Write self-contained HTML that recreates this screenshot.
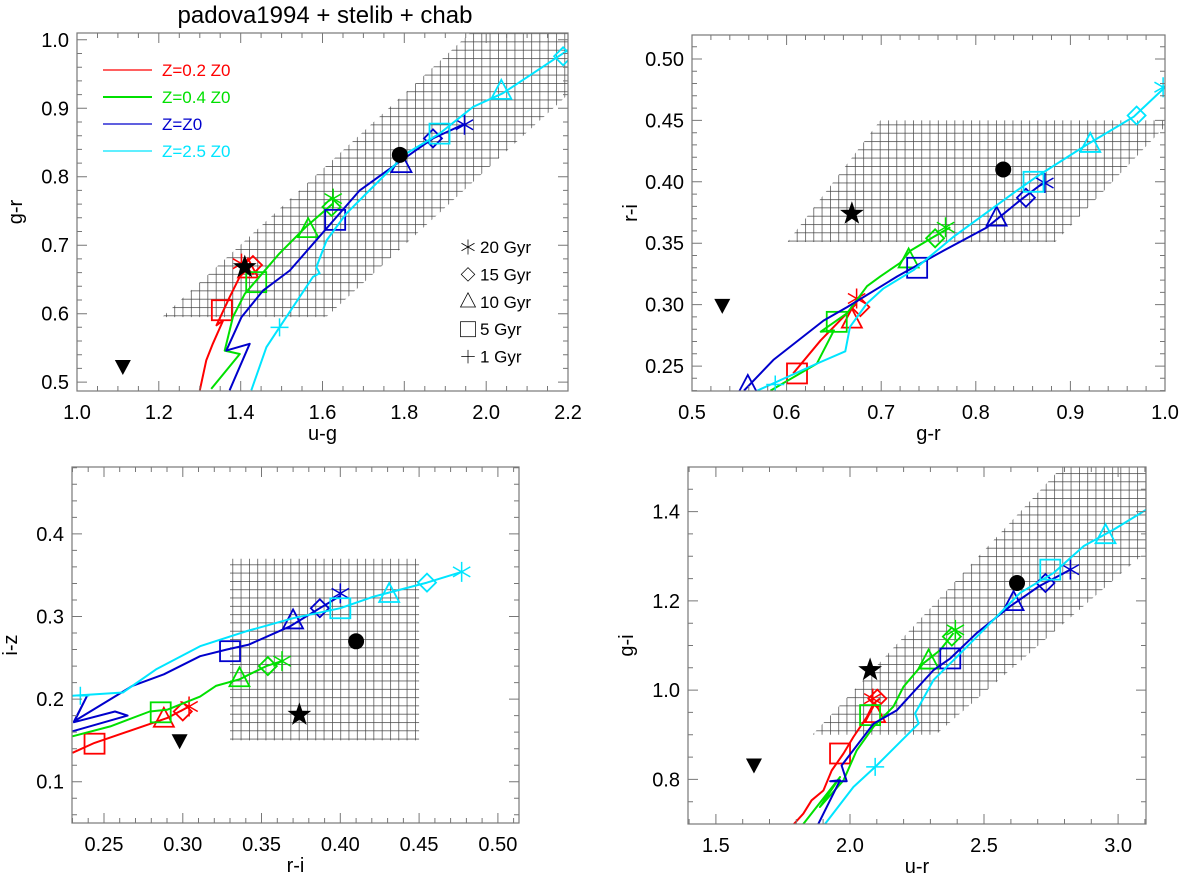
<!DOCTYPE html>
<html><head><meta charset="utf-8">
<style>
html,body{margin:0;padding:0;background:#fff;}
svg{display:block;font-family:"Liberation Sans",sans-serif;}
</style></head>
<body>
<svg id="fig" width="1200" height="882" viewBox="0 0 1200 882" xmlns="http://www.w3.org/2000/svg">
<defs>
<pattern id="hatch" patternUnits="userSpaceOnUse" width="8.3" height="8.3">
<path d="M0 0.3H8.3M0.3 0V8.3" stroke="#444" stroke-width="0.8" fill="none"/>
</pattern>
</defs>
<text x="325" y="23" font-size="24" text-anchor="middle">padova1994 + stelib + chab</text>
</svg>
<script>
// ---------- Panel 1: u-g vs g-r ----------
const p1XTicks = [1.0,1.2,1.4,1.6,1.8,2.0,2.2];
const p1XTickLabels = ["1.0","1.2","1.4","1.6","1.8","2.0","2.2"];
const p1YTicks = [0.5,0.6,0.7,0.8,0.9,1.0];
const p1YTickLabels = ["0.5","0.6","0.7","0.8","0.9","1.0"];
const p1Hatch = [[1.208,0.595],[1.961,1.01],[2.2,1.01],[2.2,0.92],[1.609,0.595]];
const p1Red = [[1.300,0.488],[1.316,0.532],[1.332,0.556],[1.357,0.590],[1.341,0.583],[1.373,0.624],[1.398,0.654],[1.430,0.673]];
const p1Green = [[1.328,0.490],[1.398,0.541],[1.361,0.546],[1.381,0.595],[1.410,0.629],[1.446,0.654],[1.495,0.688],[1.560,0.727],[1.626,0.761]];
const p1Blue = [[1.373,0.488],[1.422,0.556],[1.365,0.546],[1.402,0.595],[1.455,0.634],[1.520,0.663],[1.577,0.702],[1.634,0.741],[1.691,0.780],[1.772,0.815],[1.829,0.839],[1.870,0.856],[1.943,0.876]];
const p1Cyan = [[1.426,0.488],[1.463,0.551],[1.495,0.580],[1.577,0.654],[1.593,0.659],[1.585,0.668],[1.610,0.707],[1.658,0.746],[1.723,0.785],[1.805,0.834],[1.886,0.863],[1.968,0.902],[2.041,0.922],[2.114,0.951],[2.2,0.985]];
const p1RedMarks = [["sq",1.354,0.605],["tri",1.418,0.663],["dia",1.430,0.671],["ast",1.402,0.673]];
const p1GreenMarks = [["sq",1.438,0.646],["tri",1.565,0.722],["dia",1.622,0.756],["ast",1.626,0.768]];
const p1BlueMarks = [["sq",1.631,0.737],["tri",1.793,0.817],["dia",1.870,0.856],["ast",1.947,0.876]];
const p1CyanMarks = [["plus",1.495,0.580],["sq",1.886,0.863],["tri",2.037,0.924],["dia",2.188,0.976]];
const p1Obs = [["star",1.410,0.668],["dot",1.789,0.832],["tdown",1.112,0.522]];

// ---------- Panel 2: g-r vs r-i ----------
const p2XTicks = [0.5,0.6,0.7,0.8,0.9,1.0];
const p2XTickLabels = ["0.5","0.6","0.7","0.8","0.9","1.0"];
const p2YTicks = [0.25,0.30,0.35,0.40,0.45,0.50];
const p2YTickLabels = ["0.25","0.30","0.35","0.40","0.45","0.50"];
const p2Hatch = [[0.601,0.351],[0.699,0.45],[1.0,0.45],[1.0,0.445],[0.884,0.351]];
const p2Red = [[0.607,0.244],[0.636,0.271],[0.664,0.293],[0.674,0.301]];
const p2Green = [[0.583,0.230],[0.632,0.252],[0.650,0.279],[0.636,0.278],[0.664,0.293],[0.685,0.315],[0.699,0.323],[0.720,0.334],[0.731,0.344],[0.755,0.355],[0.773,0.363]];
const p2Blue = [[0.555,0.230],[0.586,0.255],[0.639,0.287],[0.664,0.298],[0.717,0.323],[0.766,0.344],[0.812,0.363],[0.847,0.385],[0.871,0.399]];
const p2Cyan = [[0.569,0.230],[0.632,0.252],[0.662,0.262],[0.667,0.282],[0.685,0.301],[0.702,0.313],[0.734,0.328],[0.776,0.355],[0.840,0.391],[0.864,0.404],[0.917,0.430],[0.967,0.453],[1.0,0.477]];
const p2RedMarks = [["sq",0.611,0.244],["tri",0.669,0.287],["dia",0.678,0.298],["ast",0.674,0.305]];
const p2GreenMarks = [["sq",0.653,0.286],["tri",0.729,0.336],["dia",0.757,0.354],["ast",0.768,0.363]];
const p2BlueMarks = [["tri",0.559,0.233],["sq",0.738,0.330],["tri",0.822,0.370],["dia",0.853,0.387],["ast",0.873,0.399]];
const p2CyanMarks = [["plus",0.588,0.235],["sq",0.861,0.400],["tri",0.921,0.430],["dia",0.970,0.454],["ast",0.998,0.477]];
const p2Obs = [["star",0.669,0.374],["dot",0.829,0.410],["tdown",0.532,0.299]];

// ---------- Panel 3: r-i vs i-z ----------
const p3XTicks = [0.25,0.30,0.35,0.40,0.45,0.50];
const p3XTickLabels = ["0.25","0.30","0.35","0.40","0.45","0.50"];
const p3YTicks = [0.1,0.2,0.3,0.4];
const p3YTickLabels = ["0.1","0.2","0.3","0.4"];
const p3Hatch = [[0.33,0.15],[0.33,0.37],[0.45,0.37],[0.45,0.15]];
const p3Red = [[0.230,0.135],[0.244,0.147],[0.290,0.177],[0.304,0.191]];
const p3Green = [[0.230,0.155],[0.254,0.167],[0.279,0.185],[0.290,0.187],[0.311,0.203],[0.321,0.216],[0.336,0.224],[0.353,0.240],[0.363,0.246]];
const p3Blue = [[0.230,0.161],[0.265,0.180],[0.257,0.185],[0.231,0.172],[0.239,0.203],[0.231,0.173],[0.268,0.216],[0.288,0.230],[0.311,0.252],[0.328,0.260],[0.342,0.266],[0.368,0.288],[0.387,0.310],[0.400,0.325]];
const p3Cyan = [[0.230,0.204],[0.262,0.208],[0.283,0.236],[0.311,0.264],[0.340,0.282],[0.370,0.298],[0.400,0.310],[0.421,0.324],[0.455,0.341],[0.477,0.354]];
const p3RedMarks = [["sq",0.244,0.146],["tri",0.288,0.175],["dia",0.300,0.185],["ast",0.304,0.191]];
const p3GreenMarks = [["sq",0.286,0.184],["tri",0.336,0.224],["dia",0.354,0.240],["ast",0.363,0.246]];
const p3BlueMarks = [["sq",0.330,0.258],["tri",0.370,0.294],["dia",0.387,0.310],["ast",0.400,0.328]];
const p3CyanMarks = [["plus",0.235,0.204],["sq",0.400,0.310],["tri",0.431,0.326],["dia",0.455,0.341],["ast",0.477,0.354]];
const p3Obs = [["star",0.374,0.181],["dot",0.410,0.270],["tdown",0.298,0.149]];

// ---------- Panel 4: u-r vs g-i ----------
const p4XTicks = [1.5,2.0,2.5,3.0];
const p4XTickLabels = ["1.5","2.0","2.5","3.0"];
const p4YTicks = [0.8,1.0,1.2,1.4];
const p4YTickLabels = ["0.8","1.0","1.2","1.4"];
const p4Hatch = [[1.86,0.90],[2.79,1.5],[3.104,1.5],[3.104,1.31],[2.32,0.90]];
const p4Red = [[1.791,0.700],[1.826,0.723],[1.857,0.753],[1.901,0.775],[1.932,0.820],[1.976,0.858],[2.013,0.895],[2.063,0.940],[2.088,0.970],[2.112,0.981]];
const p4Green = [[1.826,0.700],[1.963,0.805],[1.888,0.738],[1.976,0.798],[2.025,0.865],[2.088,0.918],[2.162,0.963],[2.200,1.008],[2.274,1.060],[2.337,1.090],[2.386,1.128]];
const p4Blue = [[1.882,0.700],[1.963,0.798],[1.926,0.796],[1.988,0.796],[1.969,0.831],[2.088,0.925],[2.175,0.955],[2.312,1.045],[2.374,1.071],[2.473,1.128],[2.598,1.188],[2.706,1.233],[2.822,1.270]];
const p4Cyan = [[1.907,0.700],[2.013,0.783],[2.094,0.828],[2.256,0.925],[2.243,0.948],[2.312,1.023],[2.399,1.075],[2.523,1.150],[2.635,1.218],[2.760,1.263],[2.872,1.323],[2.984,1.360],[3.104,1.404]];
const p4RedMarks = [["sq",1.963,0.858],["tri",2.094,0.944],["dia",2.102,0.981],["ast",2.085,0.981]];
const p4GreenMarks = [["sq",2.075,0.944],["tri",2.293,1.064],["dia",2.380,1.120],["ast",2.393,1.135]];
const p4BlueMarks = [["sq",2.374,1.071],["tri",2.610,1.195],["dia",2.729,1.240],["ast",2.822,1.270]];
const p4CyanMarks = [["plus",2.094,0.828],["sq",2.747,1.270],["tri",2.953,1.345]];
const p4Obs = [["star",2.075,1.045],["dot",2.623,1.240],["tdown",1.642,0.831]];

const legendLabels = ["Z=0.2 Z0","Z=0.4 Z0","Z=Z0","Z=2.5 Z0"];
const ageLabels = ["20 Gyr","15 Gyr","10 Gyr"," 5 Gyr"," 1 Gyr"];

const COLORS = {red:"#ff0000", green:"#00e000", blue:"#0000cc", cyan:"#00e5ff"};
const NS = "http://www.w3.org/2000/svg";
const svg = document.getElementById("fig");
function mk(tag, attrs, parent){ const e=document.createElementNS(NS,tag); for(const k in attrs) e.setAttribute(k,attrs[k]); (parent||svg).appendChild(e); return e; }

function marker(g, type, px, py, color){
  let e; const sw=1.8;
  if(type==="sq"){ e=mk("rect",{x:px-10,y:py-10,width:20,height:20,fill:"none",stroke:color,"stroke-width":sw},g); }
  else if(type==="tri"){ e=mk("path",{d:`M${px} ${py-12}L${px+10} ${py+7}L${px-10} ${py+7}Z`,fill:"none",stroke:color,"stroke-width":sw},g); }
  else if(type==="dia"){ e=mk("path",{d:`M${px} ${py-9}L${px+9} ${py}L${px} ${py+9}L${px-9} ${py}Z`,fill:"none",stroke:color,"stroke-width":sw},g); }
  else if(type==="ast"){ const r=10,a=r*0.866,b=r*0.5; e=mk("path",{d:`M${px} ${py-r}V${py+r}M${px-a} ${py-b}L${px+a} ${py+b}M${px-a} ${py+b}L${px+a} ${py-b}`,fill:"none",stroke:color,"stroke-width":1.5},g); }
  else if(type==="plus"){ e=mk("path",{d:`M${px} ${py-9}V${py+9}M${px-9} ${py}H${px+9}`,fill:"none",stroke:color,"stroke-width":1.5},g); }
  else if(type==="star"){ let d=""; for(let i=0;i<10;i++){const r=i%2?5:12.5; const an=-Math.PI/2+i*Math.PI/5; d+=(i?"L":"M")+(px+r*Math.cos(an)).toFixed(1)+" "+(py+r*Math.sin(an)).toFixed(1);} e=mk("path",{d:d+"Z",fill:"#000"},g); }
  else if(type==="dot"){ e=mk("circle",{cx:px,cy:py,r:8,fill:"#000"},g); }
  else if(type==="tdown"){ e=mk("path",{d:`M${px-8} ${py-7}L${px+8} ${py-7}L${px} ${py+8}Z`,fill:"#000"},g); }
  return e;
}

function panel(id, box, xd, yd, xt, xtl, xminor, yt, ytl, yminor, xlabel, ylabel, hatch, series, obs){
  const g = mk("g",{});
  
  
  const sx = v => box.x0 + (v-xd[0])/(xd[1]-xd[0])*(box.x1-box.x0);
  const sy = v => box.y1 - (v-yd[0])/(yd[1]-yd[0])*(box.y1-box.y0);
  const clipId = id+"-clip";
  const cp = mk("clipPath",{id:clipId},g); mk("rect",{x:box.x0,y:box.y0,width:box.x1-box.x0,height:box.y1-box.y0},cp);
  const inner = mk("g",{"clip-path":`url(#${clipId})`},g);
  const hp = mk("polygon",{points:hatch.map(p=>sx(p[0]).toFixed(1)+","+sy(p[1]).toFixed(1)).join(" "),fill:"url(#hatch)"},inner);
  
  
  for(const s of series){
    const ln = mk("polyline",{points:s.pts.map(p=>sx(p[0]).toFixed(1)+","+sy(p[1]).toFixed(1)).join(" "),fill:"none",stroke:COLORS[s.c],"stroke-width":2,"stroke-linejoin":"round"},inner);
    
    
    for(const m of s.marks){
      const e = marker(inner, m[0], sx(m[1]), sy(m[2]), COLORS[s.c]);
      
      
    }
  }
  for(const o of obs){
    const e = marker(inner, o[0], sx(o[1]), sy(o[2]), "#000");
    
    
  }
  const fr = mk("rect",{x:box.x0,y:box.y0,width:box.x1-box.x0,height:box.y1-box.y0,fill:"none",stroke:"#777","stroke-width":1.2},g);
  
  
  let d="";
  const xstep = xt[1]-xt[0], ystep = yt[1]-yt[0];
  for(let v=xt[0]-xstep; v<=xd[1]+1e-9; v+=xstep/xminor){ if(v<xd[0]-1e-9) continue; const px=sx(v); const isMaj = Math.abs(((v-xt[0])/xstep)-Math.round((v-xt[0])/xstep))<1e-6; const L=isMaj?10:5; d+=`M${px.toFixed(1)} ${box.y1}v${-L}M${px.toFixed(1)} ${box.y0}v${L}`; }
  for(let v=yt[0]-ystep; v<=yd[1]+1e-9; v+=ystep/yminor){ if(v<yd[0]-1e-9) continue; const py=sy(v); const isMaj = Math.abs(((v-yt[0])/ystep)-Math.round((v-yt[0])/ystep))<1e-6; const L=isMaj?10:5; d+=`M${box.x0} ${py.toFixed(1)}h${L}M${box.x1} ${py.toFixed(1)}h${-L}`; }
  mk("path",{d:d,stroke:"#777","stroke-width":1,fill:"none"},g);
  xt.forEach((v,i)=>{ const t=mk("text",{x:sx(v),y:box.y1+28,"font-size":20,"text-anchor":"middle"},g); t.textContent=xtl[i];
    
     });
  yt.forEach((v,i)=>{ const t=mk("text",{x:box.x0-8,y:sy(v)+7,"font-size":20,"text-anchor":"end"},g); t.textContent=ytl[i];
    
     });
  const xl=mk("text",{x:(box.x0+box.x1)/2,y:box.y1+49,"font-size":20,"text-anchor":"middle"},g); xl.textContent=xlabel;
  
  
  const yx = box.x0-55, yy=(box.y0+box.y1)/2;
  const yl=mk("text",{x:yx,y:yy,"font-size":20,"text-anchor":"middle",transform:`rotate(-90 ${yx} ${yy})`},g); yl.textContent=ylabel;
  
  
  return g;
}

panel("panel-ug-gr",{x0:77,x1:568,y0:33,y1:391},[1.0,2.2],[0.487,1.010],p1XTicks,p1XTickLabels,4,p1YTicks,p1YTickLabels,5,"u-g","g-r",p1Hatch,
  [{c:"red",pts:p1Red,marks:p1RedMarks},{c:"green",pts:p1Green,marks:p1GreenMarks},{c:"blue",pts:p1Blue,marks:p1BlueMarks},{c:"cyan",pts:p1Cyan,marks:p1CyanMarks}],p1Obs);
panel("panel-gr-ri",{x0:692,x1:1165,y0:35,y1:391},[0.5,1.0],[0.2297,0.5195],p2XTicks,p2XTickLabels,5,p2YTicks,p2YTickLabels,5,"g-r","r-i",p2Hatch,
  [{c:"red",pts:p2Red,marks:p2RedMarks},{c:"green",pts:p2Green,marks:p2GreenMarks},{c:"blue",pts:p2Blue,marks:p2BlueMarks},{c:"cyan",pts:p2Cyan,marks:p2CyanMarks}],p2Obs);
panel("panel-ri-iz",{x0:72,x1:519,y0:467,y1:823},[0.2297,0.5134],[0.05,0.481],p3XTicks,p3XTickLabels,5,p3YTicks,p3YTickLabels,5,"r-i","i-z",p3Hatch,
  [{c:"red",pts:p3Red,marks:p3RedMarks},{c:"green",pts:p3Green,marks:p3GreenMarks},{c:"blue",pts:p3Blue,marks:p3BlueMarks},{c:"cyan",pts:p3Cyan,marks:p3CyanMarks}],p3Obs);
panel("panel-ur-gi",{x0:688,x1:1146,y0:467,y1:824},[1.396,3.104],[0.7,1.5],p4XTicks,p4XTickLabels,5,p4YTicks,p4YTickLabels,4,"u-r","g-i",p4Hatch,
  [{c:"red",pts:p4Red,marks:p4RedMarks},{c:"green",pts:p4Green,marks:p4GreenMarks},{c:"blue",pts:p4Blue,marks:p4BlueMarks},{c:"cyan",pts:p4Cyan,marks:p4CyanMarks}],p4Obs);

const legCols = ["red","green","blue","cyan"];
legendLabels.forEach((lab,i)=>{
  const y = 70 + i*27;
  const ln = mk("line",{x1:103,x2:152,y1:y,y2:y,stroke:COLORS[legCols[i]],"stroke-width":i===1?2:1.2});
  
  
  const t = mk("text",{x:162,y:y+6,"font-size":17,fill:COLORS[legCols[i]]}); t.textContent=lab;
  
  
});
const ageSyms = ["ast","dia","tri","sq","plus"];
ageLabels.forEach((lab,i)=>{
  const y = 247 + i*27.4;
  const e = marker(svg, ageSyms[i], 468, y, "#000");
  e.setAttribute('stroke-width','1');
  e.setAttribute('transform',`translate(468 ${y}) scale(0.75) translate(-468 ${-y})`);
  
  
  const t = mk("text",{x:480,y:y+6,"font-size":17,"xml:space":"preserve"}); t.textContent=lab;
  
  
});
</script>
</body></html>
